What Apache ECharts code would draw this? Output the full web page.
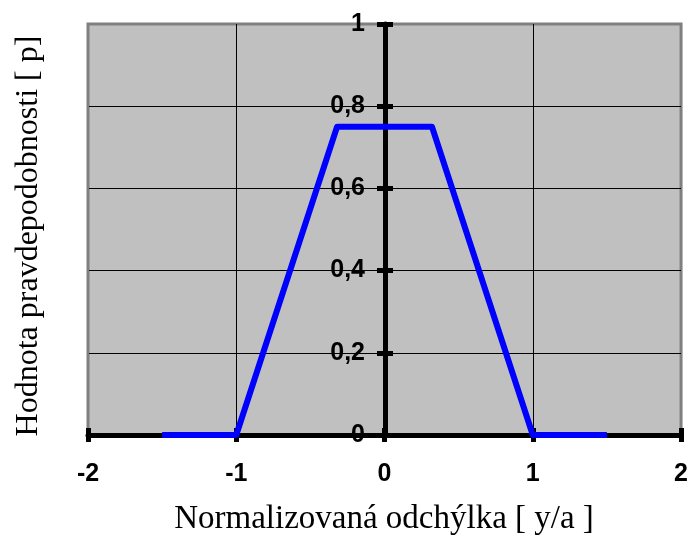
<!DOCTYPE html>
<html>
<head>
<meta charset="utf-8">
<script src="https://cdn.jsdelivr.net/npm/echarts@6/dist/echarts.min.js"></script>
<style>
  html, body { margin: 0; padding: 0; background: #fff; }
  #chart { width: 691px; height: 537px; }
</style>
</head>
<body>
<div id="chart"></div>
<script>
// data
const xValues = [-1.5, -1, -0.32, 0.32, 1, 1.5];
const yValues = [0, 0, 0.75, 0.75, 0, 0];
const xTitle = 'Normalizovaná odchýlka [ y/a ]';
const yTitle = 'Hodnota pravdepodobnosti [ p]';

const chart = echarts.init(document.getElementById('chart'));

const labelFont = {
    fontFamily: 'Liberation Sans, Arial, sans-serif',
    fontWeight: 'bold',
    fontSize: 25,
    color: '#000'
};

// y axis sits on x = 0, in the middle of the grid
const yOffset = -297;

const option = {
    animation: false,
    grid: {
        left: 88, right: 9, top: 24, bottom: 102,
        show: true,
        backgroundColor: '#c0c0c0',
        borderColor: '#808080',
        borderWidth: 3
    },
    xAxis: [
        {
            type: 'value', min: -2, max: 2, interval: 1,
            axisLine: { lineStyle: { color: '#000', width: 5 } },
            axisTick: { show: true, length: 7, lineStyle: { color: '#000', width: 5 } },
            axisLabel: Object.assign({ margin: 27, formatter: v => String(v) }, labelFont),
            splitLine: { show: true, lineStyle: { color: ['#808080', '#000', '#000', '#000', '#808080'], width: 1 } }
        },
        {
            type: 'value', min: -2, max: 2, interval: 1, position: 'bottom',
            axisLine: { show: false },
            axisTick: { show: true, inside: true, length: 7, lineStyle: { color: '#000', width: 5 } },
            axisLabel: { show: false },
            splitLine: { show: false }
        }
    ],
    yAxis: [
        {
            type: 'value', min: 0, max: 1, interval: 0.2,
            position: 'left', offset: yOffset,
            axisLine: { onZero: false, lineStyle: { color: '#000', width: 5 } },
            axisTick: { show: true, length: 8, lineStyle: { color: '#000', width: 5 } },
            axisLabel: Object.assign({
                margin: 20,
                formatter: v => String(Math.round(v * 10) / 10).replace('.', ',')
            }, labelFont),
            splitLine: { show: true, lineStyle: { color: ['#000', '#000', '#000', '#000', '#000', '#808080'], width: 1 } }
        },
        {
            type: 'value', min: 0, max: 1, interval: 0.2,
            position: 'left', offset: yOffset,
            axisLine: { show: false, onZero: false },
            axisTick: { show: true, inside: true, length: 8, lineStyle: { color: '#000', width: 5 } },
            axisLabel: { show: false },
            splitLine: { show: false }
        }
    ],
    series: [
        {
            type: 'line',
            data: xValues.map((x, i) => [x, yValues[i]]),
            showSymbol: false,
            lineStyle: { color: '#0000ff', width: 6, join: 'round' },
            z: 1
        }
    ],
    graphic: [
        {
            type: 'text', x: 384, y: 536,
            style: {
                text: xTitle, font: '33px "Liberation Serif", "Times New Roman", serif', fill: '#000',
                align: 'center', verticalAlign: 'bottom'
            }
        },
        {
            type: 'text', x: 29, y: 236, rotation: Math.PI / 2,
            style: {
                text: yTitle, font: '32px "Liberation Serif", "Times New Roman", serif', fill: '#000',
                align: 'center', verticalAlign: 'middle'
            }
        }
    ]
};

chart.setOption(option);
</script>
</body>
</html>
